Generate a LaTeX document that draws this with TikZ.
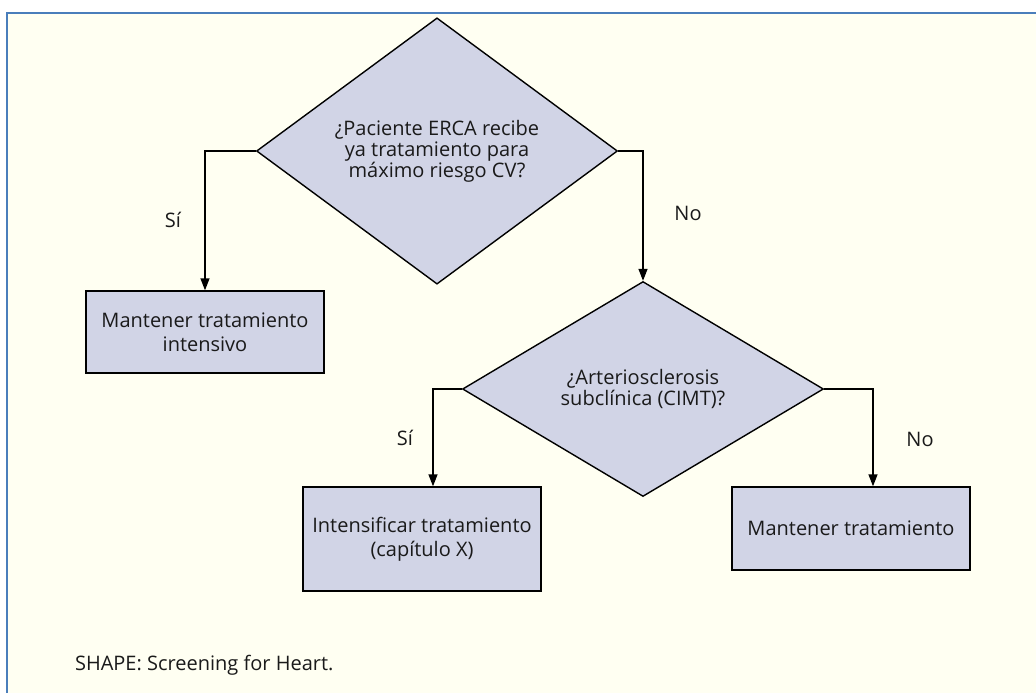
\documentclass[tikz,border=0pt]{standalone}
\usepackage{fontspec}
\setmainfont{Open Sans}
\usetikzlibrary{shapes.geometric,arrows.meta}
\definecolor{frameblue}{RGB}{74, 126, 187}
\definecolor{cream}{RGB}{255, 255, 242}
\definecolor{lavender}{RGB}{209, 212, 230}
\definecolor{ink}{RGB}{26, 26, 26}
\def\boxw{238pt}
\def\dw{361pt}
\def\dh{215pt}

\begin{document}
\begin{tikzpicture}[x=1pt, y=-1pt, line width=1.4pt, line cap=butt,
    decision/.style={diamond, draw=black, fill=lavender, text=ink, inner sep=0pt,
        minimum width=\dw, minimum height=\dh, align=center,
        font=\fontsize{20}{21}\selectfont},
    action/.style={rectangle, draw=black, fill=lavender, text=ink, inner sep=0pt,
        minimum width=\boxw, align=center, font=\fontsize{20}{24}\selectfont},
    flow/.style={-{Triangle[length=12pt, width=9pt]}},
    answer/.style={text=ink, font=\fontsize{20}{21}\selectfont}]

                 \useasboundingbox (0, 0) rectangle (1036, 693);
                 \fill[white] (0, 0) rectangle (1036, 693);
                 \fill[cream] (7, 13) rectangle (1036, 693);
                 \draw[frameblue, line width=2.6pt] (7, 693) -- (7, 13) -- (1036, 13);

                 \node[decision] (riesgo) at (437, 151)
                     {¿Paciente ERCA recibe\\ya tratamiento para\\máximo riesgo CV?};
                 \node[decision] (cimt) at (643, 389)
                     {¿Arteriosclerosis\\subclínica (CIMT)?};

                 \node[action, minimum height=82pt] (intensivo) at (205, 332)
                     {Mantener tratamiento\\intensivo};
                 \node[action, minimum height=104pt] (intensificar) at (422, 539)
                     {Intensificar tratamiento\\(capítulo X)};
                 \node[action, minimum height=83pt] (mantener) at (851, 528.5)
                     {Mantener tratamiento};

                 \draw[flow] (riesgo.west) -| (intensivo.north);
                 \draw[flow] (riesgo.east) -| (cimt.north);
                 \draw[flow] (cimt.west) -| ([xshift=11pt]intensificar.north);
                 \draw[flow] (cimt.east) -| ([xshift=22pt]mantener.north);

                 \node[answer] (si1) at (173, 220) {Sí};
                 \node[answer] (no1) at (688, 213) {No};
                 \node[answer] (si2) at (405, 438) {Sí};
                 \node[answer] (no2) at (920, 439) {No};

                 \node[answer, anchor=west] (nota) at (71, 665) {SHAPE: Screening for Heart.};

             \end{tikzpicture}
\end{document}
